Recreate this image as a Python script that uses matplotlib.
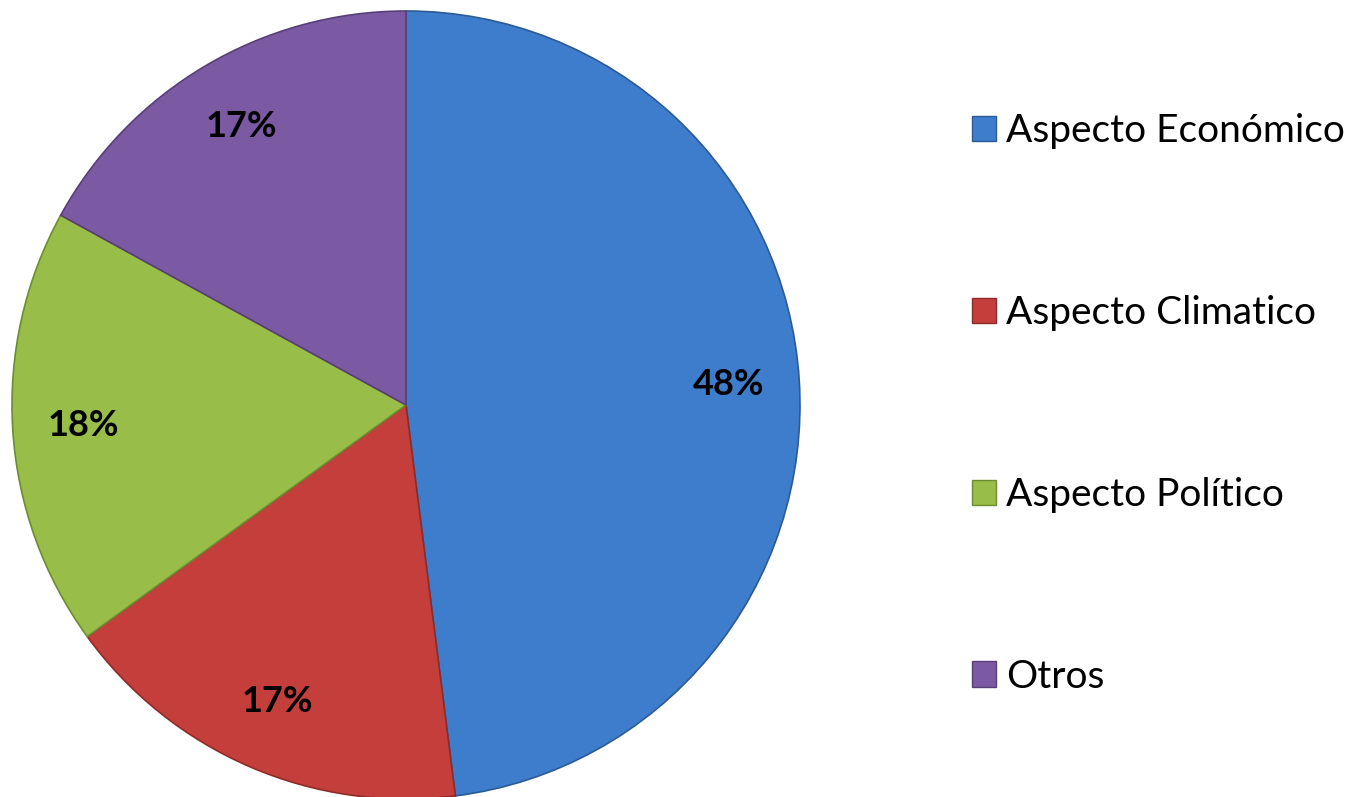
import matplotlib.pyplot as plt
from matplotlib.patches import Patch

labels = ['Aspecto Económico', 'Aspecto Climatico', 'Aspecto Político', 'Otros']
values = [48, 17, 18, 17]
colors = ['#3E7DCC', '#C43F3B', '#98BD48', '#7B5AA3']
edges = ['#2B5A96', '#8E2B28', '#6E8C30', '#573F78']

plt.rcParams['font.family'] = ['Lato', 'DejaVu Sans']

W, H = 1355, 797
fig = plt.figure(figsize=(W / 100, H / 100), dpi=100)

# pie axes: center (406, 405) px from top, radius ~394
cx, cy, r = 406, H - 405, 394
ax = fig.add_axes([(cx - r) / W, (cy - r) / H, 2 * r / W, 2 * r / H])
wedges, texts, autotexts = ax.pie(values, colors=colors, startangle=90, counterclock=False,
                                  autopct='%d%%', pctdistance=0.82,
                                  wedgeprops=dict(linewidth=1.2),
                                  textprops=dict(fontsize=26, fontweight='bold', color='black'))
for w, e in zip(wedges, edges):
    w.set_edgecolor(e)
ax.set_xlim(-1, 1)
ax.set_ylim(-1, 1)
ax.set_aspect('equal')
ax.axis('off')

handles = [Patch(facecolor=c, edgecolor=e, linewidth=1) for c, e in zip(colors, edges)]
fig.legend(handles, labels, loc='center left', bbox_to_anchor=(972 / W, (H - 404) / H),
           frameon=False, fontsize=28, labelspacing=3.75, borderpad=0, borderaxespad=0,
           handlelength=0.62, handleheight=0.62, handletextpad=0.25)

fig.savefig('out.png', dpi=100)
